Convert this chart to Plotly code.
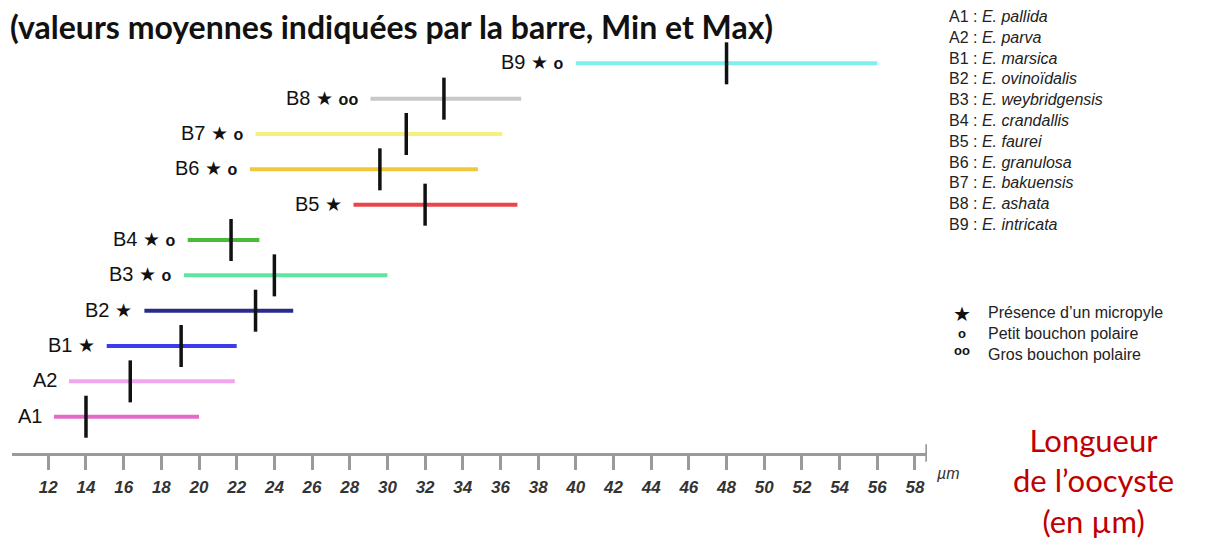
import plotly.graph_objects as go

# Espèces (de bas en haut) et longueurs de l'oocyste en µm
species = ["A1", "A2", "B1", "B2", "B3", "B4", "B5", "B6", "B7", "B8", "B9"]
markers = ["", "", "★", "★", "★ o", "★ o", "★", "★ o", "★ o", "★ oo", "★ o"]
len_min = [12.3, 13.1, 15.1, 17.1, 19.2, 19.4, 28.2, 22.7, 23.0, 29.1, 40.0]
len_max = [20.0, 21.9, 22.0, 25.0, 30.0, 23.2, 36.9, 34.8, 36.1, 37.1, 56.0]
len_mean = [14.0, 16.35, 19.05, 23.0, 24.0, 21.7, 32.0, 29.6, 31.0, 33.0, 48.0]
colors = ["#e46ac8", "#f2a6f0", "#3c3cec", "#2a2a8c", "#5ee6a0", "#4cbb3c",
          "#e8464a", "#f2c83a", "#f5f080", "#c8c8c8", "#7eeeee"]

names = ["E. pallida", "E. parva", "E. marsica", "E. ovinoïdalis", "E. weybridgensis",
         "E. crandallis", "E. faurei", "E. granulosa", "E. bakuensis", "E. ashata",
         "E. intricata"]

tick_values = [12, 14, 16, 18, 20, 22, 24, 26, 28, 30, 32, 34, 36, 38, 40,
               42, 44, 46, 48, 50, 52, 54, 56, 58]

W, H = 1206, 539
OFF = 8          # marge du <body> de la page
PLOT_H = 445     # bas de la zone de tracé = axe


def px(x):
    return (x - OFF) / W


def py(y):
    return 1 - (y - OFF) / PLOT_H


def sym_html(s):
    out = []
    for ch in s:
        if ch == "★":
            out.append("<span style='font-size:19px'>★</span>")
        elif ch == "o":
            out.append("<b><span style='font-size:16px'>o</span></b>")
        else:
            out.append(ch)
    return "".join(out)


fig = go.Figure()

rows = list(range(len(species)))

for i, sp in enumerate(species):
    fig.add_trace(go.Scatter(
        x=[len_min[i], len_max[i]], y=[rows[i], rows[i]],
        mode="lines", line=dict(color=colors[i], width=4),
        hoverinfo="skip", showlegend=False
    ))

fig.add_trace(go.Scatter(
    x=len_mean, y=rows, mode="markers",
    marker=dict(symbol="line-ns", size=30, line=dict(width=3.5, color="#111111")),
    showlegend=False, hovertemplate="%{x} µm<extra></extra>"
))

# étiquettes à gauche des barres
for i, sp in enumerate(species):
    fig.add_annotation(
        x=len_min[i], y=rows[i], xref="x", yref="y",
        text=(sp + " " + sym_html(markers[i])).strip(), showarrow=False,
        xanchor="right", yanchor="middle", xshift=-10, yshift=1,
        font=dict(family="Liberation Sans", size=20, color="#111111")
    )

# flèche de l'axe
fig.add_shape(
    type="path", xref="x", yref="paper",
    path=f"M 58.55 {-9/PLOT_H} L 59.9 0 L 58.55 {9/PLOT_H} Z",
    fillcolor="#9a9a9a", line=dict(width=0)
)

fig.add_annotation(
    x=px(962), y=py(484), xref="paper", yref="paper", text="<i>µm</i>",
    showarrow=False, font=dict(family="Liberation Sans", size=16, color="#333333")
)

# titre
fig.add_annotation(
    x=0, y=py(26), xref="paper", yref="paper", xanchor="left", yanchor="middle",
    text="<b>(valeurs moyennes indiquées par la barre, Min et Max)</b>",
    showarrow=False, font=dict(family="Lato", size=32, color="#111111")
)

# légende des espèces
legend_txt = "<br>".join(f"{sp} : <i>{nm}</i>" for sp, nm in zip(species, names))
fig.add_annotation(
    x=px(947), y=py(6), xref="paper", yref="paper", xanchor="left", yanchor="top",
    text=legend_txt, align="left", showarrow=False,
    font=dict(family="Liberation Sans", size=16, color="#222222")
)

# légende des symboles
fig.add_annotation(
    x=px(962), y=py(301), xref="paper", yref="paper", xanchor="center", yanchor="top",
    text="<span style='font-size:20px'>★</span><br><b>o</b><br><b>oo</b>",
    align="center", showarrow=False,
    font=dict(family="Liberation Sans", size=13, color="#111111")
)
fig.add_annotation(
    x=px(986), y=py(302), xref="paper", yref="paper", xanchor="left", yanchor="top",
    text="Présence d’un micropyle<br>Petit bouchon polaire<br>Gros bouchon polaire",
    align="left", showarrow=False,
    font=dict(family="Liberation Sans", size=16, color="#222222")
)

# titre de l'axe en rouge
fig.add_annotation(
    x=px(1093), y=py(480), xref="paper", yref="paper", xanchor="center", yanchor="middle",
    text="Longueur<br>de l’oocyste<br>(en µm)", align="center", showarrow=False,
    font=dict(family="Lato", size=31, color="#c00000")
)

fig.update_layout(
    width=W, height=H,
    margin=dict(l=0, r=0, t=0, b=H - PLOT_H, pad=0),
    plot_bgcolor="white", paper_bgcolor="white",
    showlegend=False,
    xaxis=dict(
        domain=[(12 - OFF) / W, (927 - OFF) / W], range=[10.073, 58.64],
        showgrid=False, zeroline=False,
        showline=True, linecolor="#9a9a9a", linewidth=3,
        tickmode="array", tickvals=tick_values,
        ticks="outside", ticklen=14, tickwidth=3, tickcolor="#9a9a9a",
        ticklabelstandoff=3,
        tickfont=dict(family="Liberation Sans", size=17, color="#333333",
                      style="italic", weight="bold")
    ),
    yaxis=dict(range=[-1.027, 11.565], visible=False, showgrid=False, zeroline=False),
)

fig.write_html("out.html")
